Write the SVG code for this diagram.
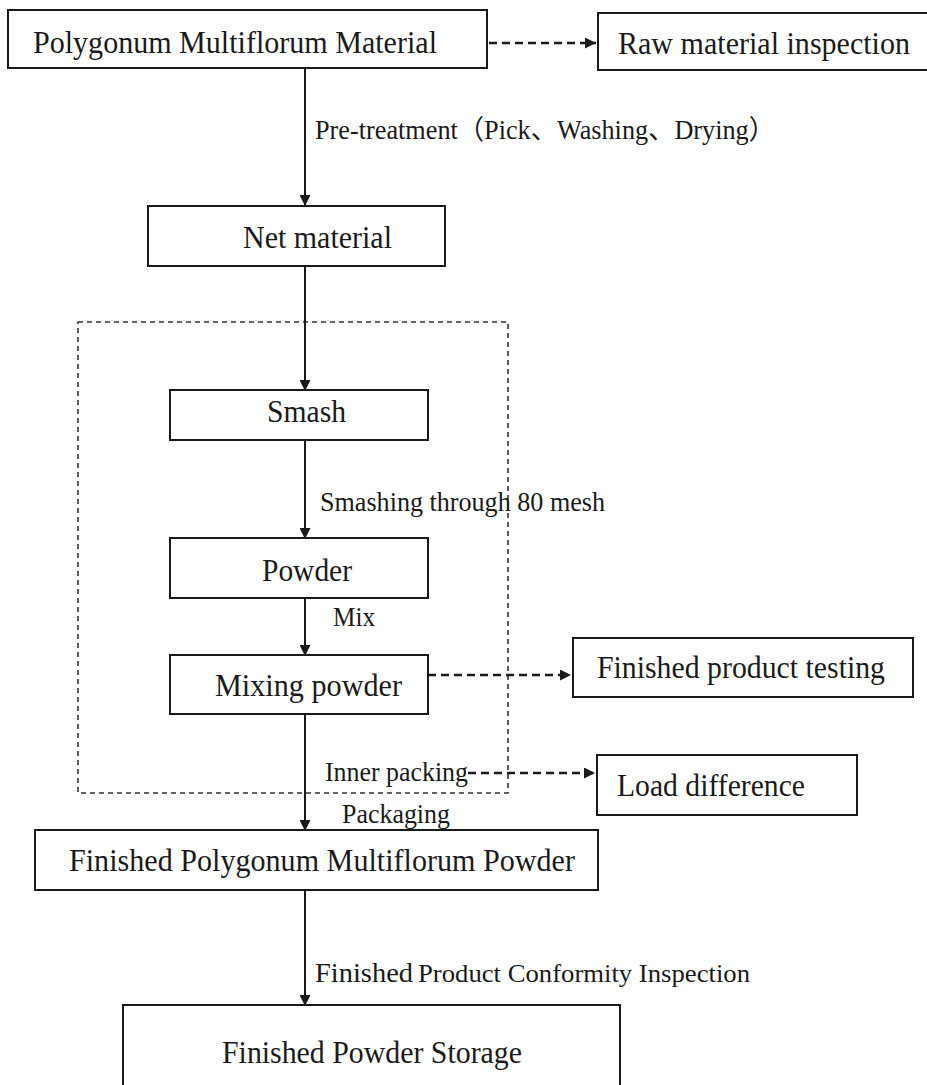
<svg xmlns="http://www.w3.org/2000/svg" width="927" height="1085" viewBox="0 0 927 1085">
<defs>
<marker id="ah" viewBox="0 0 10 10" refX="10" refY="5" markerWidth="12" markerHeight="11" markerUnits="userSpaceOnUse" orient="auto">
<path d="M0,0 L10,5 L0,10 Z" fill="#1a1a1a"/>
</marker>
<style>
.box{fill:#fff;stroke:#1a1a1a;stroke-width:2}
.t{font-family:"Liberation Serif","Noto Sans CJK SC",serif;font-size:32px;fill:#1a1a1a}
.s{font-family:"Liberation Serif","Noto Sans CJK SC",serif;font-size:27px;fill:#1a1a1a}
.ln{stroke:#1a1a1a;stroke-width:2;fill:none}
.dl{stroke:#1a1a1a;stroke-width:2.4;fill:none;stroke-dasharray:8,5}
.frame{stroke:#333;stroke-width:1.6;fill:none;stroke-dasharray:5,4}
</style>
</defs>
<rect width="927" height="1085" fill="#fff"/>
<rect class="frame" x="78" y="322" width="430" height="471"/>
<g id="connectors">
<line class="ln" x1="305" y1="68" x2="305" y2="206" marker-end="url(#ah)"/>
<line class="ln" x1="305" y1="266" x2="305" y2="391" marker-end="url(#ah)"/>
<line class="ln" x1="305" y1="440" x2="305" y2="539" marker-end="url(#ah)"/>
<line class="ln" x1="305" y1="598" x2="305" y2="656" marker-end="url(#ah)"/>
<line class="ln" x1="305" y1="714" x2="305" y2="831" marker-end="url(#ah)"/>
<line class="ln" x1="305" y1="890" x2="305" y2="1006" marker-end="url(#ah)"/>
<line class="dl" x1="437" y1="43" x2="596" y2="43" marker-end="url(#ah)"/>
<line class="dl" x1="415" y1="675" x2="571" y2="675" marker-end="url(#ah)"/>
<line class="dl" x1="468" y1="773" x2="595" y2="773" marker-end="url(#ah)"/>
<text class="s" x="315" y="139" textLength="460" lengthAdjust="spacingAndGlyphs">Pre-treatment（Pick、Washing、Drying）</text>
<text class="s" x="320" y="511" textLength="285" lengthAdjust="spacingAndGlyphs">Smashing through 80 mesh</text>
<text class="s" x="333" y="626" textLength="42" lengthAdjust="spacingAndGlyphs">Mix</text>
<text class="s" x="325" y="781" textLength="143" lengthAdjust="spacingAndGlyphs">Inner packing</text>
<text class="s" x="342" y="823" textLength="108" lengthAdjust="spacingAndGlyphs">Packaging</text>
<text x="315" y="982" class="s" textLength="98" lengthAdjust="spacingAndGlyphs">Finished</text>
<text x="418" y="982" class="s" style="font-size:25px" textLength="332" lengthAdjust="spacingAndGlyphs">Product Conformity Inspection</text>
</g>
<g id="n1"><rect class="box" x="8" y="10" width="479" height="58"/><text class="t" x="33" y="53" textLength="404" lengthAdjust="spacingAndGlyphs">Polygonum Multiflorum Material</text></g>
<g id="n2"><rect class="box" x="598" y="13" width="340" height="57"/><text class="t" x="618" y="54" textLength="292" lengthAdjust="spacingAndGlyphs">Raw material inspection</text></g>
<g id="n3"><rect class="box" x="148" y="206" width="297" height="60"/><text class="t" x="243" y="248" textLength="149" lengthAdjust="spacingAndGlyphs">Net material</text></g>
<g id="n4"><rect class="box" x="170" y="390" width="258" height="50"/><text class="t" x="267" y="422" textLength="79" lengthAdjust="spacingAndGlyphs">Smash</text></g>
<g id="n5"><rect class="box" x="170" y="538" width="258" height="60"/><text class="t" x="262" y="581" textLength="90" lengthAdjust="spacingAndGlyphs">Powder</text></g>
<g id="n6"><rect class="box" x="170" y="655" width="258" height="59"/><text class="t" x="215" y="696" textLength="187" lengthAdjust="spacingAndGlyphs">Mixing powder</text></g>
<g id="n7"><rect class="box" x="573" y="638" width="340" height="59"/><text class="t" x="597" y="678" textLength="288" lengthAdjust="spacingAndGlyphs">Finished product testing</text></g>
<g id="n8"><rect class="box" x="597" y="755" width="260" height="60"/><text class="t" x="617" y="796" textLength="188" lengthAdjust="spacingAndGlyphs">Load difference</text></g>
<g id="n9"><rect class="box" x="35" y="830" width="563" height="60"/><text class="t" x="69" y="871" textLength="506" lengthAdjust="spacingAndGlyphs">Finished Polygonum Multiflorum Powder</text></g>
<g id="n10"><rect class="box" x="123" y="1005" width="497" height="90"/><text class="t" x="222" y="1063" textLength="300" lengthAdjust="spacingAndGlyphs">Finished Powder Storage</text></g>
</svg>
